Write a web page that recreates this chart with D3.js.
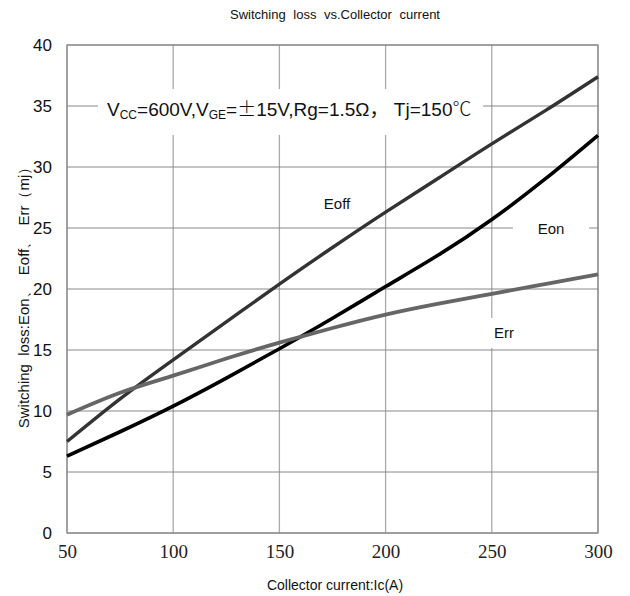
<!DOCTYPE html>
<html><head><meta charset="utf-8">
<script src="https://cdn.jsdelivr.net/npm/d3@7/dist/d3.min.js"></script>
<style>body{margin:0;background:#fff}svg{display:block}</style>
</head><body>
<svg id="c" width="630" height="596"></svg>
<script>
const currents = [50, 75, 100, 125, 150, 175, 200, 225, 250, 275, 300];
const eoff = [7.5, 11.0, 14.2, 17.3, 20.4, 23.4, 26.3, 29.1, 31.9, 34.6, 37.4];
const eon  = [6.3, 8.3, 10.4, 12.7, 15.1, 17.6, 20.2, 22.8, 25.7, 29.0, 32.6];
const err  = [9.7, 11.5, 12.9, 14.3, 15.6, 16.8, 17.9, 18.8, 19.6, 20.4, 21.2];
const xTicks = [50, 100, 150, 200, 250, 300];
const yTicks = [0, 5, 10, 15, 20, 25, 30, 35, 40];
const seriesNames = ["Eoff", "Eon", "Err"];

const svg = d3.select("#c");
const L = 67, R = 598, T = 45, B = 533;
const x = d3.scaleLinear().domain([50, 300]).range([L, R]);
const y = d3.scaleLinear().domain([0, 40]).range([B, T]);
const SANS = "Liberation Sans, Arial, sans-serif";

// grid
svg.append("g").selectAll("line").data(xTicks).join("line")
  .attr("x1", d => x(d)).attr("x2", d => x(d)).attr("y1", T).attr("y2", B)
  .attr("stroke", "#aaa").attr("stroke-width", 1.3);
svg.append("g").selectAll("line").data(yTicks).join("line")
  .attr("x1", L).attr("x2", R).attr("y1", d => y(d)).attr("y2", d => y(d))
  .attr("stroke", "#888").attr("stroke-width", 1);
svg.append("rect").attr("x", L).attr("y", T).attr("width", R - L).attr("height", B - T)
  .attr("fill", "none").attr("stroke", "#888").attr("stroke-width", 1.2);

// axes labels
const xa = d3.axisBottom(x).tickValues(xTicks).tickSize(0).tickPadding(12);
svg.append("g").attr("transform", `translate(0,${B})`).call(xa)
  .call(g => g.select(".domain").remove())
  .selectAll("text").attr("font-family", "Liberation Serif, serif").attr("font-size", 19).attr("fill", "#222");
const ya = d3.axisLeft(y).tickValues(yTicks).tickSize(0).tickPadding(15);
svg.append("g").attr("transform", `translate(${L},0)`).call(ya)
  .call(g => g.select(".domain").remove())
  .selectAll("text").attr("font-family", SANS).attr("font-size", 17).attr("fill", "#111");

// curves
const data = [
  {name: "Eoff", vals: eoff, color: "#333", w: 3.4},
  {name: "Eon", vals: eon, color: "#000", w: 3.6},
  {name: "Err", vals: err, color: "#666", w: 3.8}
];
const line = d3.line().x(d => x(d[0])).y(d => y(d[1])).curve(d3.curveNatural);
svg.append("g").selectAll("path").data(data).join("path")
  .attr("d", s => line(currents.map((c, i) => [c, s.vals[i]])))
  .attr("fill", "none").attr("stroke", s => s.color).attr("stroke-width", s => s.w)
  .attr("stroke-linejoin", "round");

// series labels with white background
const labelPos = {Eoff: [337, 209], Eon: [551, 234], Err: [504, 338]};
seriesNames.forEach(n => {
  const [lx, ly] = labelPos[n];
  if (n !== "Eoff") svg.append("rect").attr("x", lx - 38).attr("y", ly - 20).attr("width", 76).attr("height", 30).attr("fill", "#fff");
  svg.append("text").attr("x", lx).attr("y", ly).attr("text-anchor", "middle")
    .attr("font-family", SANS).attr("font-size", 15).attr("fill", "#111").text(n);
});

// condition annotation
svg.append("rect").attr("x", 98).attr("y", 89).attr("width", 385).attr("height", 46).attr("fill", "#fff");
const ann = svg.append("text").attr("x", 107).attr("y", 116)
  .attr("font-family", SANS).attr("font-size", 19).attr("fill", "#111");
const CJK = "Noto Sans CJK SC";
ann.append("tspan").text("V");
ann.append("tspan").attr("font-size", 12).attr("dy", 3).text("CC");
ann.append("tspan").attr("dy", -3).text("=600V,V");
ann.append("tspan").attr("font-size", 12).attr("dy", 3).text("GE");
ann.append("tspan").attr("dy", -3).text("=");
ann.append("tspan").attr("font-family", CJK).attr("font-weight", 300).text("\u00b1");
ann.append("tspan").text("15V,Rg=1.5\u03a9");
ann.append("tspan").attr("font-family", CJK).text("\uff0c");
ann.append("tspan").text(" Tj=150");
ann.append("tspan").attr("font-family", CJK).attr("font-weight", 300).text("\u2103");

// titles
svg.append("text").attr("x", 335).attr("y", 19).attr("text-anchor", "middle")
  .attr("font-family", SANS).attr("font-size", 13).attr("word-spacing", 4).attr("fill", "#111")
  .text("Switching loss vs.Collector current");
svg.append("text").attr("x", 335).attr("y", 590).attr("text-anchor", "middle")
  .attr("font-family", SANS).attr("font-size", 14).attr("fill", "#111")
  .text("Collector current:Ic(A)");
svg.append("text").attr("transform", "translate(29,294) rotate(-90)").attr("text-anchor", "middle")
  .attr("font-family", SANS).attr("font-size", 15).attr("word-spacing", 4).attr("fill", "#111")
  .text("Switching loss:Eon\u3001 Eoff\u3001 Err\uff08mj\uff09");
</script>
</body></html>
